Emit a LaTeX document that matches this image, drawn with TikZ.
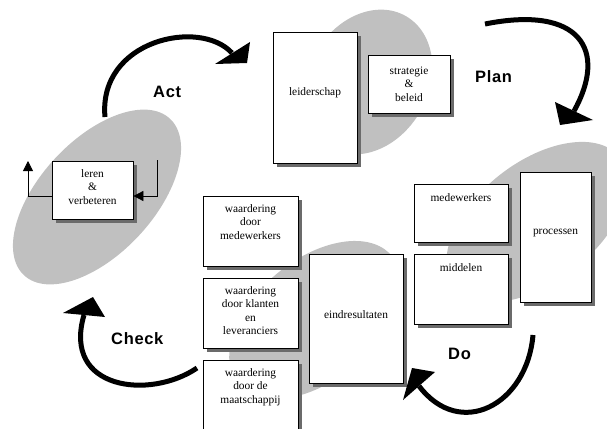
\documentclass[tikz,border=0pt]{standalone}
\usepackage{fontspec}
\setmainfont{Liberation Serif}
\newfontfamily\lblfont[LetterSpace=4]{Liberation Sans}
\usetikzlibrary{arrows.meta}
\definecolor{ell}{RGB}{192,192,192}
\tikzset{
 box/.style={draw=black, fill=white, line width=0.8pt, inner sep=0pt},
 boxshade/.style={fill=black!58},
 txt/.style={font=\fontsize{11.4}{13.5}\selectfont, align=center, inner sep=0pt},
 cyc/.style={line width=5pt},
 head/.style={fill=black},
 lbl/.style={font=\lblfont\bfseries\fontsize{16.5}{18}\selectfont, inner sep=0pt, anchor=base west},
 small/.style={line width=0.8pt, -{Triangle[length=10pt,width=10pt]}},
 blob/.style={fill=ell}
}
\begin{document}
\begin{tikzpicture}[x=1pt,y=-1pt]
\useasboundingbox (0,0) rectangle (607,428);
% grey ellipses
\fill[blob, rotate around={47:(97,197)}] (97,197) ellipse [x radius=107pt, y radius=57pt];
\fill[blob, rotate around={60:(368,82)}] (368,82) ellipse [x radius=76pt, y radius=60pt];
\fill[blob, rotate around={38:(537,222)}] (537,222) ellipse [x radius=105pt, y radius=60pt];
\fill[blob, rotate around={40:(315,320)}] (315,320) ellipse [x radius=100pt, y radius=60pt];
% box shadows
\foreach \xa/\ya/\xb/\yb in {52/161/133/219, 273/32/357/163, 368/55/450/113,
   414/184/508/242, 414/254/508/324, 520/172/591/302, 203/196/298/266,
   203/278/298/348, 203/360/298/428, 309/254/403/383}
  \fill[boxshade] (\xa+3.6,\ya+3.6) rectangle (\xb+3.6,\yb+3.6);
% boxes
\node[box, minimum width=81pt, minimum height=58pt] (leren) at (92.5,190) {};
\node[box, minimum width=84pt, minimum height=131pt] (leid) at (315,97.5) {};
\node[box, minimum width=82pt, minimum height=58pt] (strat) at (409,84) {};
\node[box, minimum width=94pt, minimum height=58pt] (medew) at (461,213) {};
\node[box, minimum width=94pt, minimum height=70pt] (middel) at (461,289) {};
\node[box, minimum width=71pt, minimum height=130pt] (proc) at (555.5,237) {};
\node[box, minimum width=95pt, minimum height=70pt] (wmed) at (250.5,231) {};
\node[box, minimum width=95pt, minimum height=70pt] (wkl) at (250.5,313) {};
\node[box, minimum width=95pt, minimum height=85pt] (wmaat) at (250.5,402.5) {};
\node[box, minimum width=94pt, minimum height=129pt] (eind) at (356,318.5) {};
% texts
\node[txt] (tleren) at (92.5,187) {leren\\\&\\verbeteren};
\node[txt] (tleid) at (315,93) {leiderschap};
\node[txt] (tstrat) at (409,84) {strategie\\\&\\beleid};
\node[txt, anchor=north] (tmedew) at (461,193) {medewerkers};
\node[txt, anchor=north] (tmiddel) at (461,263) {middelen};
\node[txt] (tproc) at (555.5,233) {processen};
\node[txt, anchor=north] (twmed) at (250.5,204) {waardering\\door\\medewerkers};
\node[txt, anchor=north] (twkl) at (250.5,286) {waardering\\door klanten\\en\\leveranciers};
\node[txt, anchor=north] (twmaat) at (250.5,368) {waardering\\door de\\maatschappij};
\node[txt] (teind) at (356,315) {eindresultaten};
% small feedback arrows
\coordinate (lup) at (28,161);
\coordinate (rtop) at (157,160);
\draw[small] ([yshift=-6pt]leren.west) -| (lup);
\draw[small] (rtop) |- ([yshift=-6pt]leren.east);
% cycle arrows
\coordinate (actS) at (105,117);
\coordinate (actE) at (232,53);
\draw[cyc] (actS) .. controls (98,40) and (200,18) .. (actE);
\fill[head] (215,64) -- (250,42) -- (247,63) -- cycle;
\coordinate (planS) at (485,24);
\coordinate (planE) at (574,111);
\draw[cyc] (planS) .. controls (580,5) and (608,50) .. (planE);
\fill[head] (555,102) -- (593,120) -- (560,125) -- cycle;
\coordinate (doS) at (533,335);
\coordinate (doE) at (419,386);
\draw[cyc] (doS) .. controls (527,405) and (460,440) .. (doE);
\fill[head] (403,400) -- (435,372) -- (412,368) -- cycle;
\coordinate (chS) at (197,368);
\coordinate (chE) at (84,315);
\draw[cyc] (chS) .. controls (150,400) and (62,390) .. (chE);
\fill[head] (63,313) -- (93,297) -- (105,317) -- cycle;
% labels
\node[lbl] (act) at (153,97) {Act};
\node[lbl] (plan) at (475,82) {Plan};
\node[lbl] (do) at (448,359) {Do};
\node[lbl] (check) at (111,344) {Check};
\end{tikzpicture}
\end{document}
